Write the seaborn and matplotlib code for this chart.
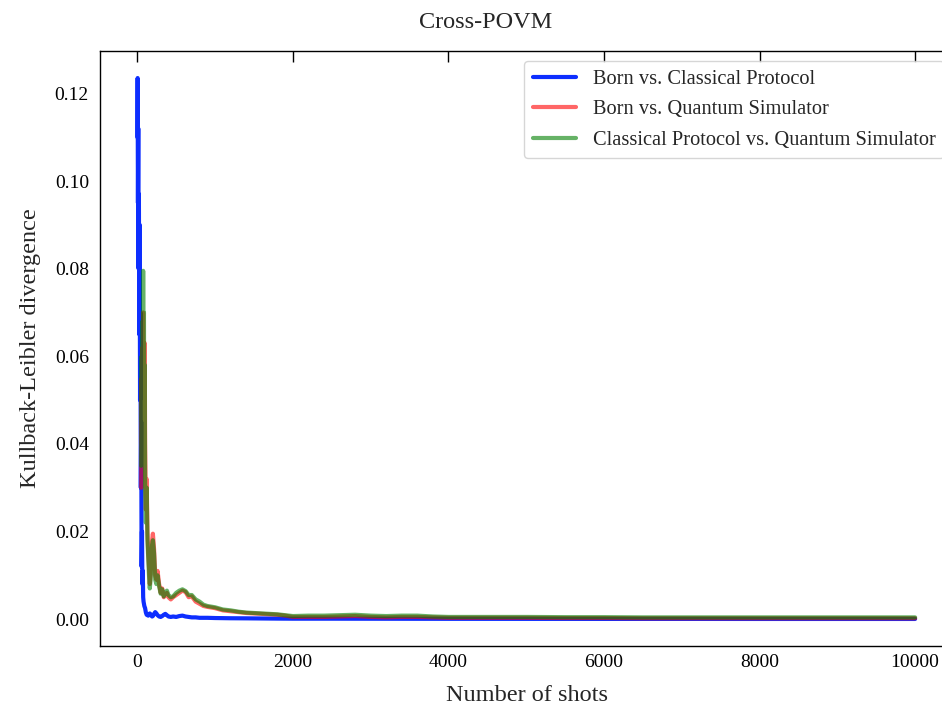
"""Kullback-Leibler divergence vs number of shots (Cross-POVM)."""

import matplotlib

matplotlib.use("Agg")
import matplotlib.pyplot as plt
import seaborn as sns

# Data
shots_born = [
    1, 4, 8, 12, 16, 20, 25, 30, 35, 40, 45, 50, 55, 60, 65, 70, 75, 80, 90,
    100, 110, 120, 130, 140, 150, 160, 170, 180, 190, 200, 215, 230, 245, 260,
    280, 300, 320, 340, 360, 380, 400, 430, 460, 500, 540, 580, 620, 660, 700,
    750, 800, 850, 900, 1000, 1200, 1400, 1600, 1800, 2000, 2500, 3000, 3500,
    4000, 5000, 6000, 7000, 8000, 9000, 10000,
]
kl_born_classical = [
    0.110, 0.1235, 0.095, 0.112, 0.080, 0.097, 0.065, 0.090, 0.050, 0.070,
    0.030, 0.045, 0.012, 0.020, 0.008, 0.011, 0.005, 0.004, 0.003, 0.0025,
    0.0015, 0.0010, 0.0009, 0.0008, 0.0010, 0.0013, 0.0011, 0.0008, 0.0006,
    0.0007, 0.0012, 0.0016, 0.0013, 0.0009, 0.0006, 0.0005, 0.0007, 0.0010,
    0.0012, 0.0009, 0.0006, 0.0005, 0.0006, 0.0005, 0.0007, 0.0008, 0.0006,
    0.0005, 0.0004, 0.0004, 0.0003, 0.0003, 0.0003, 0.00025, 0.0002, 0.00018,
    0.00015, 0.00012, 0.0001, 0.0001, 0.00009, 0.00008, 0.00007, 0.00006,
    0.00005, 0.00005, 0.00004, 0.00004, 0.00004,
]

shots_sim = [
    50, 55, 60, 65, 70, 75, 80, 85, 90, 95, 100, 110, 120, 130, 140, 150, 160,
    170, 180, 190, 200, 215, 230, 245, 260, 280, 300, 320, 340, 360, 380, 400,
    430, 460, 500, 540, 580, 620, 660, 700, 750, 800, 850, 900, 1000, 1100,
    1200, 1300, 1400, 1500, 1600, 1700, 1800, 1900, 2000, 2200, 2400, 2600,
    2800, 3000, 3200, 3400, 3600, 3800, 4000, 4500, 5000, 5500, 6000, 6500,
    7000, 7500, 8000, 8500, 9000, 9500, 10000,
]
kl_born_quantum = [
    0.030, 0.055, 0.040, 0.062, 0.045, 0.070, 0.050, 0.060, 0.035, 0.063,
    0.040, 0.025, 0.032, 0.020, 0.015, 0.012, 0.008, 0.010, 0.014, 0.018,
    0.0195, 0.016, 0.010, 0.009, 0.011, 0.008, 0.006, 0.007, 0.005, 0.0055,
    0.006, 0.005, 0.0045, 0.005, 0.0055, 0.006, 0.0065, 0.0062, 0.005, 0.0052,
    0.004, 0.0035, 0.003, 0.0028, 0.0025, 0.002, 0.0018, 0.0016, 0.0014,
    0.0013, 0.0012, 0.0011, 0.0010, 0.0008, 0.0005, 0.0005, 0.0005, 0.0006,
    0.0007, 0.0005, 0.0004, 0.0005, 0.0005, 0.0004, 0.0003, 0.0003, 0.0003,
    0.00025, 0.00025, 0.0002, 0.0002, 0.0002, 0.0002, 0.0002, 0.0002, 0.0002,
    0.0002,
]
kl_classical_quantum = [
    0.035, 0.060, 0.045, 0.068, 0.050, 0.0795, 0.055, 0.070, 0.040, 0.058,
    0.030, 0.022, 0.030, 0.018, 0.014, 0.010, 0.007, 0.009, 0.013, 0.017,
    0.018, 0.015, 0.009, 0.008, 0.010, 0.0075, 0.0058, 0.0068, 0.0052, 0.006,
    0.0065, 0.0055, 0.005, 0.0052, 0.006, 0.0065, 0.0068, 0.0064, 0.0055,
    0.0055, 0.0045, 0.004, 0.0033, 0.003, 0.0027, 0.0022, 0.002, 0.0017,
    0.0015, 0.0014, 0.0013, 0.0012, 0.0011, 0.0009, 0.0007, 0.0008, 0.0008,
    0.0009, 0.0010, 0.0008, 0.0007, 0.0008, 0.0008, 0.0006, 0.0005, 0.0005,
    0.0005, 0.00045, 0.00045, 0.0004, 0.0004, 0.0004, 0.0004, 0.0004, 0.0004,
    0.0004, 0.0004,
]

labels = [
    "Born vs. Classical Protocol",
    "Born vs. Quantum Simulator",
    "Classical Protocol vs. Quantum Simulator",
]

# Style
sns.set_style("white")
plt.rcParams["font.family"] = ["Liberation Serif", "DejaVu Serif"]
plt.rcParams["mathtext.fontset"] = "stix"

fig = plt.figure(figsize=(9.42, 7.07), dpi=100)
# axes runs a little past the right edge, as in the cropped original
ax = fig.add_axes([100 / 942, 61 / 707, 854 / 942, 595 / 707])

sns.lineplot(x=shots_born, y=kl_born_classical, ax=ax, color="#0022ff",
             alpha=0.95, linewidth=3, label=labels[0])
sns.lineplot(x=shots_sim, y=kl_born_quantum, ax=ax, color="red",
             alpha=0.6, linewidth=3, label=labels[1])
sns.lineplot(x=shots_sim, y=kl_classical_quantum, ax=ax, color="green",
             alpha=0.6, linewidth=3, label=labels[2])

ax.set_xlim(-480, 10500)
ax.set_xticks([0, 2000, 4000, 6000, 8000, 10000])
ax.set_yticks([0.0, 0.02, 0.04, 0.06, 0.08, 0.10, 0.12])
ax.yaxis.set_major_formatter(matplotlib.ticker.FormatStrFormatter("%.2f"))

for side in ["left", "right", "top", "bottom"]:
    ax.spines[side].set_visible(True)
    ax.spines[side].set_color("black")
    ax.spines[side].set_linewidth(1.0)

ax.tick_params(direction="in", length=8, width=1.0, top=True, right=True,
               labelsize=14, colors="black")
ax.tick_params(axis="y", pad=8)
ax.tick_params(axis="x", pad=6)

ax.set_xlabel("Number of shots", fontsize=17.5, labelpad=10)
ax.set_ylabel("Kullback-Leibler divergence", fontsize=17.5, labelpad=10)
# title is centred on the full (uncropped) figure, not on the axes
fig.suptitle("Cross-POVM", fontsize=17.5, x=486 / 942, y=1 - 22 / 707,
             va="center")

ax.legend(loc="upper right", fontsize=14.7, frameon=True, handlelength=2.15,
          labelspacing=0.55)

fig.savefig("out.png", dpi=100)
